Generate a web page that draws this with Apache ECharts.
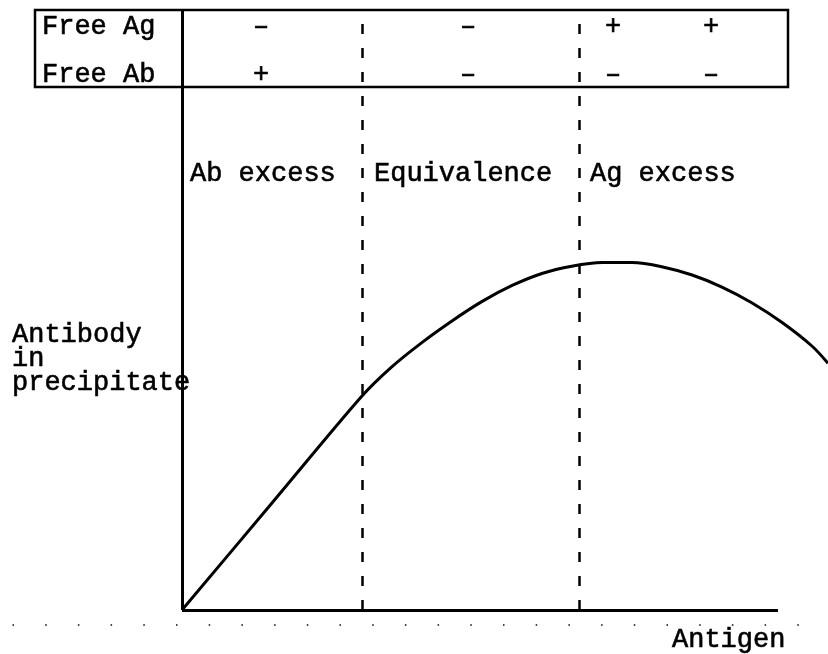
<!DOCTYPE html>
<html>
<head>
<meta charset="utf-8">
<script src="https://cdn.jsdelivr.net/npm/echarts@6/dist/echarts.min.js"></script>
<style>
  html, body { margin: 0; padding: 0; background: #fff; }
  #chart { width: 828px; height: 654px; }
</style>
</head>
<body>
<div id="chart"></div>
<script>
// antigen added (x) vs antibody in precipitate (y), arbitrary units; x axis drawn to 100
const antigen = [0, 15.1, 30.2, 35.2, 40.3, 45.3, 50.3, 55.4, 60.4, 65.4, 70.5, 75.5, 80.5, 85.6, 90.6, 95.6, 100.7, 105.7, 108.4];
const precipitate = [0, 20.5, 41.0, 46.6, 51.3, 55.4, 59.1, 62.2, 64.5, 65.9, 66.6, 66.6, 65.8, 64.2, 61.9, 58.9, 55.1, 50.6, 47.3];

// zone borders on the antigen axis
const zoneBounds = [30.2, 66.6];
const zoneNames = ['Ab excess', 'Equivalence', 'Ag excess'];

// table above the plot
const rowNames = ['Free Ag', 'Free Ab'];
const freeAg = ['–', '–', '+', '+'];
const freeAb = ['+', '–', '–', '–'];

const xAxisEnd = 100;
const xMax = 108.4;
const yMax = 115;

const font = '27px "Liberation Mono", "Courier New", monospace';
// slight stroke so the thin mono face looks like typewriter text
const txt = (extra) => Object.assign({ font: font, fill: '#000', stroke: '#000', lineWidth: 0.6 }, extra);

const myChart = echarts.init(document.getElementById('chart'));

// pixel positions of table texts
const signX = [261, 468, 613, 711];
const rowY = [27, 75];
const zoneX = [190, 374, 590];

const graphics = [
  {
    type: 'rect',
    shape: { x: 35, y: 10, width: 753, height: 77 },
    style: { fill: 'none', stroke: '#000', lineWidth: 2.5 },
    silent: true
  },
  {
    type: 'line',
    shape: { x1: 12.5, y1: 625, x2: 812, y2: 625 },
    style: { stroke: '#444', lineWidth: 2, lineDash: [1.5, 31.2] },
    silent: true
  },
  { type: 'text', style: txt({ text: 'Antibody\nin\nprecipitate', x: 12, y: 323, lineHeight: 24, textVerticalAlign: 'top' }) },
  { type: 'text', style: txt({ text: 'Antigen', x: 672, y: 640, textVerticalAlign: 'middle' }) }
];

rowNames.forEach((name, i) => {
  graphics.push({ type: 'text', style: txt({ text: name, x: 42, y: rowY[i], textVerticalAlign: 'middle' }) });
});
[freeAg, freeAb].forEach((row, i) => {
  row.forEach((s, j) => {
    graphics.push({
      type: 'text',
      style: txt({ text: s, x: signX[j], y: rowY[i], textAlign: 'center', textVerticalAlign: 'middle' })
    });
  });
});
zoneNames.forEach((name, i) => {
  graphics.push({ type: 'text', style: txt({ text: name, x: zoneX[i], y: 174, textVerticalAlign: 'middle' }) });
});

const solid = { color: '#000', width: 3, type: 'solid' };
const dashed = { color: '#000', width: 2.5, type: [10, 14] };

const option = {
  animation: false,
  backgroundColor: '#fff',
  grid: { left: 182, right: 0, top: 10, bottom: 44 },
  xAxis: { type: 'value', min: 0, max: xMax, show: false },
  yAxis: { type: 'value', min: 0, max: yMax, show: false },
  graphic: graphics,
  series: [
    {
      name: 'precipitate',
      type: 'line',
      data: antigen.map((x, i) => [x, precipitate[i]]),
      smooth: 0.3,
      showSymbol: false,
      symbol: 'none',
      lineStyle: { color: '#000', width: 3 },
      markLine: {
        silent: true,
        symbol: 'none',
        label: { show: false },
        data: [
          { xAxis: 0, lineStyle: solid },
          [{ coord: [0, 0], lineStyle: solid }, { coord: [xAxisEnd, 0] }],
          ...zoneBounds.map(v => ({ xAxis: v, lineStyle: dashed }))
        ]
      }
    }
  ]
};

myChart.setOption(option);
</script>
</body>
</html>
